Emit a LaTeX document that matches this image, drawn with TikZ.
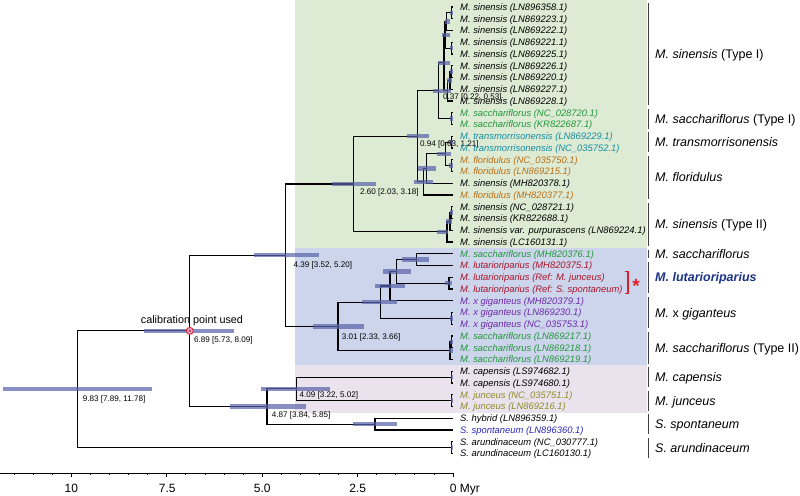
\documentclass[tikz,border=0pt]{standalone}
\usepackage{fontspec}
\setmainfont{Liberation Sans}
\definecolor{bgG}{RGB}{221,235,213}
\definecolor{bgB}{RGB}{205,213,236}
\definecolor{bgP}{RGB}{234,226,236}
\definecolor{cSac}{RGB}{34,150,58}
\definecolor{cTra}{RGB}{20,140,160}
\definecolor{cFlo}{RGB}{185,110,20}
\definecolor{cLut}{RGB}{170,20,40}
\definecolor{cGig}{RGB}{110,40,170}
\definecolor{cJun}{RGB}{145,140,40}
\definecolor{cSpo}{RGB}{40,40,190}
\definecolor{cNavy}{RGB}{26,50,135}
\definecolor{cRed}{RGB}{225,30,40}
\definecolor{cHpd}{RGB}{90,100,170}
\begin{document}
\begin{tikzpicture}[x=1pt,y=-1pt,
  br/.style={line width=1.15pt,black},
  hpd/.style={fill=cHpd,fill opacity=0.72},
  tip/.style={anchor=base west,inner sep=0pt,font=\fontsize{9.4}{11}\selectfont\itshape},
  nlab/.style={anchor=base west,inner sep=0pt,font=\fontsize{8.1}{10}\selectfont},
  glab/.style={anchor=base west,inner sep=0pt,font=\fontsize{12.5}{14}\selectfont},
  gbar/.style={line width=1.6pt,black!75},
  axlab/.style={anchor=base,inner sep=0pt,font=\fontsize{12}{14}\selectfont}]
\useasboundingbox (0,0) rectangle (800,495);
% background bands
\fill[bgG] (295,0) rectangle (646.7,247.9);
\fill[bgB] (295,247.9) rectangle (646.7,365.4);
\fill[bgP] (295,365.4) rectangle (646.7,412.6);
% tips
\foreach \i in {0,...,38} \coordinate (t\i) at (452.5,{7+11.75*\i});
% internal nodes
\coordinate (nA) at (451.3,12.875);
\coordinate (nB) at (446.7,21.69);
\coordinate (nC) at (451.3,48.125);
\coordinate (nD) at (445,34.91);
\coordinate (nE) at (451.3,71.625);
\coordinate (nF) at (450,80.44);
\coordinate (nG) at (447.5,90.72);
\coordinate (nSinI) at (444,62.81);
\coordinate (nSacI) at (451.3,118.625);
\coordinate (n037) at (438.9,90.72);
\coordinate (nT) at (451.3,142.125);
\coordinate (nF1) at (451.3,165.625);
\coordinate (nI) at (445.7,153.875);
\coordinate (nH) at (426.7,168.56);
\coordinate (nGf) at (423.3,181.78);
\coordinate (n094) at (417.1,136.25);
\coordinate (nS1) at (451.3,212.625);
\coordinate (nS2) at (450,221.44);
\coordinate (nS3) at (447,231.72);
\coordinate (n260) at (353.7,183.98);
\coordinate (nL1) at (416.7,259.625);
\coordinate (nL2) at (449,283.125);
\coordinate (nL3) at (396.7,271.375);
\coordinate (nL4) at (390,286.06);
\coordinate (nX2) at (451.3,318.375);
\coordinate (nM) at (380.7,302.22);
\coordinate (nQ1) at (451.3,341.875);
\coordinate (nQ2) at (450,350.69);
\coordinate (n301) at (338,326.45);
\coordinate (n439) at (285.3,255.22);
\coordinate (nCap) at (451.3,377.125);
\coordinate (nJun) at (451.3,400.625);
\coordinate (n409) at (296.8,388.875);
\coordinate (nSp) at (375,424.125);
\coordinate (n487) at (267,406.5);
\coordinate (n689) at (189.8,330.86);
\coordinate (nAru) at (451.3,447.625);
\coordinate (n983) at (77.5,389.24);
% branches
\foreach \p/\c in {nA/t0,nA/t1,nB/nA,nB/t2,nC/t3,nC/t4,nD/nB,nD/nC,
  nE/t5,nE/t6,nF/nE,nF/t7,nG/nF,nG/t8,nSinI/nD,nSinI/nG,nSacI/t9,nSacI/t10,
  n037/nSinI,n037/nSacI,nT/t11,nT/t12,nF1/t13,nF1/t14,nI/nT,nI/nF1,nH/nI,nH/t15,
  nGf/nH,nGf/t16,n094/n037,n094/nGf,nS1/t17,nS1/t18,nS2/nS1,nS2/t19,nS3/nS2,nS3/t20,
  n260/n094,n260/nS3,nL1/t21,nL1/t22,nL2/t23,nL2/t24,nL3/nL1,nL3/nL2,nL4/nL3,nL4/t25,
  nX2/t26,nX2/t27,nM/nL4,nM/nX2,nQ1/t28,nQ1/t29,nQ2/nQ1,nQ2/t30,n301/nM,n301/nQ2,
  n439/n260,n439/n301,nCap/t31,nCap/t32,nJun/t33,nJun/t34,n409/nCap,n409/nJun,
  nSp/t35,nSp/t36,n487/n409,n487/nSp,n689/n439,n689/n487,nAru/t37,nAru/t38,
  n983/n689,n983/nAru}
  \draw[br] (\p) |- (\c);
% HPD bars
\foreach \a/\b/\y in {432.8/444.6/90.72,406.8/428.9/136.25,331.5/375.5/183.98,
  254.4/318.5/255.22,313.2/364.0/326.45,144.0/234.1/330.86,3.0/151.6/389.24,
  261.2/330.0/388.875,229.5/306.3/406.5,353.3/396.7/424.125,402.3/429.3/259.625,
  382.7/410.7/271.375,375/405/286.06,361.7/396.7/302.22,414/433/181.78,418/436/168.56,
  437/451/153.875,438/450/62.81,442/449.5/34.91,445/450/21.69,450/453/12.875,
  445/451/90.72,447/452/80.44,450/453/71.625,450/453/48.125,450/453/118.625,
  449/453/142.125,449/453/165.625,450/453/212.625,446/452/221.44,437/448/231.72,
  445/452/283.125,450/453/318.375,450/453/341.875,449/453/350.69,451/453/377.125,
  451/453/400.625,451/453/447.625}
  \fill[hpd] (\a,{\y-2.2}) rectangle (\b,{\y+2.2});
% calibration point
\node[circle,draw=cRed,fill={rgb,255:red,222;green,160;blue,200},minimum size=7pt,inner sep=0pt,line width=0.8pt] (calib) at (n689) {};
\fill[cRed] (calib.center) circle (1.1);
\node[anchor=base west,inner sep=0pt,font=\fontsize{10.8}{12}\selectfont] (calibtxt) at (140.7,323.6) {calibration point used};
% node labels
\node[nlab] (l037) at (443,99.9) {0.37 [0.22, 0.53]};
\node[nlab] (l094) at (420,146.2) {0.94 [0.63, 1.21]};
\node[nlab] (l260) at (360,194.6) {2.60 [2.03, 3.18]};
\node[nlab] (l439) at (293.4,267.2) {4.39 [3.52, 5.20]};
\node[nlab] (l301) at (341.7,339.6) {3.01 [2.33, 3.66]};
\node[nlab] (l689) at (194,342.9) {6.89 [5.73, 8.09]};
\node[nlab] (l983) at (82.7,401.2) {9.83 [7.89, 11.78]};
\node[nlab] (l409) at (299.3,397.9) {4.09 [3.22, 5.02]};
\node[nlab] (l487) at (271.7,417.9) {4.87 [3.84, 5.85]};
% tip labels
\foreach \i/\c/\t in {0/black/{M. sinensis (LN896358.1)},1/black/{M. sinensis (LN869223.1)},
  2/black/{M. sinensis (LN869222.1)},3/black/{M. sinensis (LN869221.1)},
  4/black/{M. sinensis (LN869225.1)},5/black/{M. sinensis (LN869226.1)},
  6/black/{M. sinensis (LN869220.1)},7/black/{M. sinensis (LN869227.1)},
  8/black/{M. sinensis (LN869228.1)},9/cSac/{M. sacchariflorus (NC\_028720.1)},
  10/cSac/{M. sacchariflorus (KR822687.1)},11/cTra/{M. transmorrisonensis (LN869229.1)},
  12/cTra/{M. transmorrisonensis (NC\_035752.1)},13/cFlo/{M. floridulus (NC\_035750.1)},
  14/cFlo/{M. floridulus (LN869215.1)},15/black/{M. sinensis (MH820378.1)},
  16/cFlo/{M. floridulus (MH820377.1)},17/black/{M. sinensis (NC\_028721.1)},
  18/black/{M. sinensis (KR822688.1)},19/black/{M. sinensis var. purpurascens (LN869224.1)},
  20/black/{M. sinensis (LC160131.1)},21/cSac/{M. sacchariflorus (MH820376.1)},
  22/cLut/{M. lutarioriparius (MH820375.1)},23/cLut/{M. lutarioriparius (Ref: M. junceus)},
  24/cLut/{M. lutarioriparius (Ref: S. spontaneum)},25/cGig/{M. x giganteus (MH820379.1)},
  26/cGig/{M. x giganteus (LN869230.1)},27/cGig/{M. x giganteus (NC\_035753.1)},
  28/cSac/{M. sacchariflorus (LN869217.1)},29/cSac/{M. sacchariflorus (LN869218.1)},
  30/cSac/{M. sacchariflorus (LN869219.1)},31/black/{M. capensis (LS974682.1)},
  32/black/{M. capensis (LS974680.1)},33/cJun/{M. junceus (NC\_035751.1)},
  34/cJun/{M. junceus (LN869216.1)},35/black/{S. hybrid (LN896359.1)},
  36/cSpo/{S. spontaneum (LN896360.1)},37/black/{S. arundinaceum (NC\_030777.1)},
  38/black/{S. arundinaceum (LC160130.1)}}
  \node[tip,text=\c] (tl\i) at (460,{7+11.75*\i+3.4}) {\t};
% red bracket and asterisk
\draw[cRed,line width=1.3pt] (624.7,271.7) -- (628,271.7) -- (628,293.3) -- (624.7,293.3);
\node[anchor=base,inner sep=0pt,text=cRed,font=\fontsize{19}{20}\selectfont\bfseries] (star) at (636,292.5) {*};
% group bars and labels
\foreach \f/\l/\t in {0/8/{\textit{M. sinensis} (Type I)},9/10/{\textit{M. sacchariflorus} (Type I)},
  11/12/{\textit{M. transmorrisonensis}},13/16/{\textit{M. floridulus}},
  17/20/{\textit{M. sinensis} (Type II)},21/21/{\textit{M. sacchariflorus}},
  22/24/{\textcolor{cNavy}{\bfseries\itshape M. lutarioriparius}},
  25/27/{\textit{M.} x \textit{giganteus}},28/30/{\textit{M. sacchariflorus} (Type II)},
  31/32/{\textit{M. capensis}},33/34/{\textit{M. junceus}},
  35/36/{\textit{S. spontaneum}},37/38/{\textit{S. arundinaceum}}}
{
  \draw[gbar] (648.5,{7+11.75*\f-4}) -- (648.5,{7+11.75*\l+4});
  \node[glab] (g\f) at (655,{7+11.75*(\f+\l)/2+4.5}) {\t};
}
% axis
\draw[line width=0.9pt] (0,473.3) -- (453,473.3);
\foreach \k in {0,...,23}
  \draw[line width=0.7pt] ({453-38.17*0.5*\k},473.3) -- ++(0,2);
\foreach \k in {0,...,4}
  \draw[line width=0.8pt] ({453-38.17*2.5*\k},473.3) -- ++(0,3.5);
\node[axlab] (a10) at (71.3,492.3) {10};
\node[axlab] (a75) at (167.3,492.3) {7.5};
\node[axlab] (a50) at (262.2,492.3) {5.0};
\node[axlab] (a25) at (357.6,492.3) {2.5};
\node[anchor=base west,inner sep=0pt,font=\fontsize{12}{14}\selectfont] (a0) at (449.7,492.3) {0 Myr};
\end{tikzpicture}
\end{document}
